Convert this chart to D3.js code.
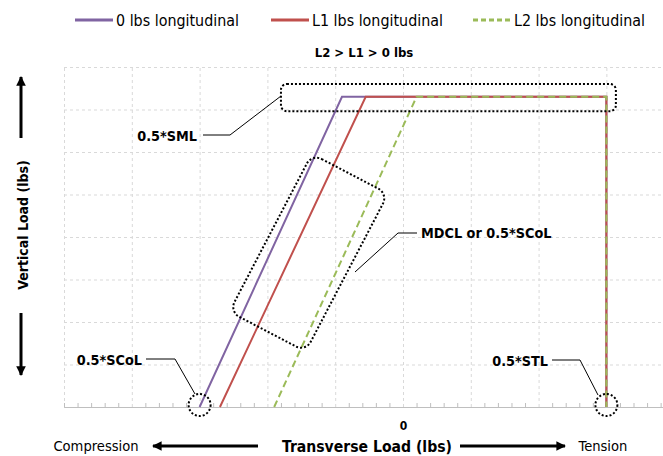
<!DOCTYPE html>
<html>
<head>
<meta charset="utf-8">
<script src="https://cdn.jsdelivr.net/npm/d3@7"></script>
<style>
  body { margin: 0; background: #fff; }
  svg text { font-family: "DejaVu Sans Condensed", "Liberation Sans Narrow", Roboto, sans-serif; fill: #000; }
</style>
</head>
<body>
<div id="chart"></div>
<script>
// Load path data (x = transverse load in grid units, y = vertical load)
var seriesNames = ["0 lbs longitudinal", "L1 lbs longitudinal", "L2 lbs longitudinal"];
var zeroLbsX = [-3.0, -0.9, 3.0, 3.0];
var zeroLbsY = [0, 7.3, 7.3, 0];
var l1LbsX = [-2.7, -0.55, 3.0, 3.0];
var l1LbsY = [0, 7.3, 7.3, 0];
var l2LbsX = [-1.9, 0.2, 3.0, 3.0];
var l2LbsY = [0, 7.3, 7.3, 0];
var xTickLabels = ["0"];

// SVG size and margins
var svgWidth = 663;
var svgHeight = 456;
var margin = { top: 67, right: 0, bottom: 49, left: 64 };
var width = svgWidth - margin.left - margin.right;
var height = svgHeight - margin.top - margin.bottom;

var svg = d3.select("#chart")
  .append("svg")
  .attr("width", svgWidth)
  .attr("height", svgHeight);

var chartGroup = svg.append("g")
  .attr("transform", `translate(${margin.left}, ${margin.top})`);

var xScale = d3.scaleLinear().domain([-5, 3.835]).range([0, width]);
var yScale = d3.scaleLinear().domain([0, 8]).range([height, 0]);

// dashed gridlines
chartGroup.append("g")
  .attr("transform", `translate(0, ${height})`)
  .call(d3.axisBottom(xScale).tickValues(d3.range(-5, 4)).tickSize(-height).tickFormat(""))
  .call(g => g.select(".domain").remove());
chartGroup.append("g")
  .call(d3.axisLeft(yScale).tickValues(d3.range(0, 9)).tickSize(-width).tickFormat(""))
  .call(g => g.select(".domain").remove());
chartGroup.selectAll(".tick line")
  .attr("stroke", "#d9d9d9")
  .attr("stroke-dasharray", "3,3");

// x axis with minor ticks pointing up
var minorTicks = d3.range(-5, 3.84, 0.2).filter(v => Math.abs(v - Math.round(v)) > 0.01);
var xAxis = chartGroup.append("g")
  .attr("transform", `translate(0, ${height})`)
  .call(d3.axisBottom(xScale).tickValues(minorTicks).tickSize(-4).tickFormat(""));
xAxis.select(".domain").attr("stroke", "#bfbfbf");
xAxis.selectAll(".tick line").attr("stroke", "#bfbfbf");

chartGroup.append("g")
  .attr("transform", `translate(0, ${height})`)
  .call(d3.axisBottom(xScale).tickValues([0]).tickSize(0).tickPadding(14).tickFormat((d, i) => xTickLabels[i]))
  .call(g => g.select(".domain").remove())
  .selectAll("text")
  .attr("font-size", "12px")
  .attr("font-weight", "bold")
  .attr("font-family", null);

// series lines
var seriesData = [
  { name: seriesNames[0], x: zeroLbsX, y: zeroLbsY, color: "#8064a2", dash: null },
  { name: seriesNames[1], x: l1LbsX, y: l1LbsY, color: "#c0504d", dash: null },
  { name: seriesNames[2], x: l2LbsX, y: l2LbsY, color: "#9bbb59", dash: "7,4" }
];

var line = d3.line().x(d => xScale(d[0])).y(d => yScale(d[1]));

chartGroup.selectAll(".series")
  .data(seriesData)
  .enter()
  .append("path")
  .attr("class", "series")
  .attr("d", s => line(s.x.map((v, i) => [v, s.y[i]])))
  .attr("fill", "none")
  .attr("stroke", s => s.color)
  .attr("stroke-width", 2)
  .attr("stroke-dasharray", s => s.dash);

// annotations (dotted callouts)
var dotted = g => g.attr("fill", "none").attr("stroke", "#000").attr("stroke-width", 2).attr("stroke-dasharray", "2,2");

chartGroup.append("rect")
  .attr("x", xScale(-1.8))
  .attr("y", yScale(7.6))
  .attr("width", xScale(3.14) - xScale(-1.8))
  .attr("height", yScale(6.96) - yScale(7.6))
  .attr("rx", 6)
  .call(dotted);

chartGroup.append("rect")
  .attr("x", -43)
  .attr("y", -89)
  .attr("width", 86)
  .attr("height", 178)
  .attr("rx", 11)
  .attr("transform", `translate(${xScale(-1.39)}, ${yScale(3.63)}) rotate(27.6)`)
  .call(dotted);

chartGroup.selectAll(".endCircle")
  .data([[zeroLbsX[0], zeroLbsY[0]], [zeroLbsX[3], zeroLbsY[3]]])
  .enter()
  .append("circle")
  .attr("cx", d => xScale(d[0]))
  .attr("cy", d => yScale(d[1]) - 2)
  .attr("r", 11)
  .call(dotted);

// leader lines + labels (svg coordinates)
var leaders = [
  { text: "0.5*SML", tx: 197, ty: 141, anchor: "end", pts: [[203, 135], [230, 135], [281, 96]] },
  { text: "MDCL or 0.5*SCoL", tx: 421, ty: 238, anchor: "start", pts: [[417, 233], [398, 233], [355, 272]] },
  { text: "0.5*SCoL", tx: 142, ty: 365, anchor: "end", pts: [[146, 359], [175, 359], [195, 394]] },
  { text: "0.5*STL", tx: 548, ty: 366, anchor: "end", pts: [[552, 360], [580, 360], [598, 395]] }
];

svg.selectAll(".leader")
  .data(leaders)
  .enter()
  .append("path")
  .attr("class", "leader")
  .attr("d", d => d3.line()(d.pts))
  .attr("fill", "none")
  .attr("stroke", "#000")
  .attr("stroke-width", 1);

svg.selectAll(".leaderText")
  .data(leaders)
  .enter()
  .append("text")
  .attr("class", "leaderText")
  .attr("x", d => d.tx)
  .attr("y", d => d.ty)
  .attr("text-anchor", d => d.anchor)
  .attr("font-size", "14.3px")
  .attr("font-weight", "bold")
  .text(d => d.text);

// legend
var legendX = [75, 271, 473];
var legend = svg.selectAll(".legend")
  .data(seriesData)
  .enter()
  .append("g")
  .attr("class", "legend")
  .attr("transform", (d, i) => `translate(${legendX[i]}, 20)`);
legend.append("line")
  .attr("x1", 0).attr("x2", 38)
  .attr("stroke", d => d.color)
  .attr("stroke-width", 3)
  .attr("stroke-dasharray", d => d.dash ? "5,3" : null);
legend.append("text")
  .attr("x", 41)
  .attr("y", 5.5)
  .attr("font-size", "15.9px")
  .text(d => d.name);

// title
svg.append("text")
  .attr("x", 364)
  .attr("y", 57)
  .attr("text-anchor", "middle")
  .attr("font-size", "13px")
  .attr("font-weight", "bold")
  .text("L2 > L1 > 0 lbs");

// arrows
var defs = svg.append("defs");
defs.append("marker")
  .attr("id", "head")
  .attr("viewBox", "0 0 10 10")
  .attr("refX", 9).attr("refY", 5)
  .attr("markerWidth", 3.2).attr("markerHeight", 3.2)
  .attr("markerUnits", "strokeWidth")
  .attr("orient", "auto")
  .append("path")
  .attr("d", "M0,0 L10,5 L0,10 z")
  .attr("fill", "#000");

var arrows = [
  [[21, 138], [21, 77]],
  [[21, 313], [21, 375]],
  [[258, 446], [153, 446]],
  [[460, 446], [565, 446]]
];
svg.selectAll(".arrow")
  .data(arrows)
  .enter()
  .append("path")
  .attr("class", "arrow")
  .attr("d", d => d3.line()(d))
  .attr("stroke", "#000")
  .attr("stroke-width", 3)
  .attr("marker-end", "url(#head)");

// axis titles
svg.append("text")
  .attr("transform", "translate(28, 225) rotate(-90)")
  .attr("text-anchor", "middle")
  .attr("font-size", "14px")
  .attr("font-weight", "bold")
  .text("Vertical Load (lbs)");

svg.append("text")
  .attr("x", 367)
  .attr("y", 452)
  .attr("text-anchor", "middle")
  .attr("font-size", "15.6px")
  .attr("font-weight", "bold")
  .text("Transverse Load (lbs)");

svg.append("text")
  .attr("x", 96)
  .attr("y", 451)
  .attr("text-anchor", "middle")
  .attr("font-size", "14.6px")
  .text("Compression");

svg.append("text")
  .attr("x", 603)
  .attr("y", 451)
  .attr("text-anchor", "middle")
  .attr("font-size", "14.6px")
  .text("Tension");
</script>
</body>
</html>
